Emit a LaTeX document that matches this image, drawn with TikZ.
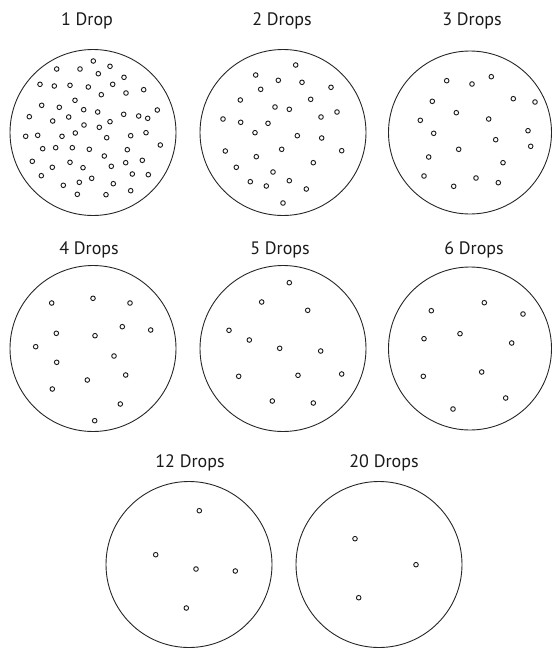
\documentclass[tikz,border=0pt]{standalone}
\usepackage{fontspec}
\setmainfont{PT Sans}
\begin{document}
\begin{tikzpicture}[x=1pt,y=-1pt,
  plate/.style={draw=black!85,line width=0.9pt,circle,inner sep=0pt,minimum size=166pt},
  drop/.style={draw=black!90,line width=0.9pt},
  lbl/.style={anchor=base,font=\fontsize{18}{20}\selectfont,text=black!90,inner sep=0pt}]
\useasboundingbox (0,0) rectangle (552,648);
% plates
\node[plate] (p1) at (93,132.5) {};
\node[plate] (p2) at (283,132.5) {};
\node[plate,minimum size=163pt] (p3) at (470,132.5) {};
\node[plate] (p4) at (93,348.5) {};
\node[plate] (p5) at (283,348.5) {};
\node[plate,minimum size=163pt] (p6) at (470,348.5) {};
\node[plate] (p7) at (189,564.5) {};
\node[plate] (p8) at (379,564.5) {};
% labels
\node[lbl] (l1) at (87,25) {1 Drop};
\node[lbl] (l2) at (282,25) {2 Drops};
\node[lbl] (l3) at (472,25) {3 Drops};
\node[lbl] (l4) at (89,254) {4 Drops};
\node[lbl] (l5) at (280,254) {5 Drops};
\node[lbl] (l6) at (474,254) {6 Drops};
\node[lbl] (l7) at (190,467) {12 Drops};
\node[lbl] (l8) at (384,467) {20 Drops};
% drops
\foreach \x/\y in {93.3/61, 56.7/69, 80/69, 110/66.3, 98.3/73.7, 124/77.3, 40/84.3, 54.3/86, 70/85.3, 88.3/87,
  112.7/84.3, 101.3/94.7, 126/93, 143.7/89.7, 75/100.3, 41.7/105.3, 59.3/107.3, 83.7/109.7, 97.7/112, 123.7/114.3,
  157.3/110, 29.3/116.7, 52.7/121, 68.7/117, 138.7/116, 147.7/118.3, 84/125, 99.3/127.3, 110/121.7, 25.7/136.3,
  37.7/135.3, 62/136.3, 75.3/133, 106.7/137.7, 130.7/135.7, 146/132.7, 160.3/145, 42.7/148.7, 55.7/147.7, 72.3/147.7,
  89.3/149.3, 127.3/149.7, 32.3/161.3, 52.3/167.3, 70/162.3, 83/167.7, 104.3/156, 111.3/166.3, 125.7/162.7, 142.3/160.3,
  41.3/175.7, 91.7/178.3, 132.3/174, 148.3/174.7, 63.3/185.3, 79.3/182.3, 113.3/183.7, 77.3/194.3, 106/194.7, 130.7/190.7,
  % plate 2
  295.7/65, 255.7/75, 278.3/80.3, 302/82.3, 331/87.3, 260.7/89.3, 240.3/100, 310.7/99.3, 275/107, 289.3/109.3,
  337/112, 223/119, 240.7/122.3, 268/123.3, 321/117, 255/132.7, 297.3/135.7, 321.7/138, 225.3/151, 281.7/149.3,
  341.7/150.7, 256.3/156.7, 236.3/167.3, 313.3/162.7, 273/172, 250.3/181.7, 266.3/186, 289.3/180.7, 306.3/189, 283/203,
  % plate 3
  446.7/80.7, 472/84, 491.3/76.7, 432.3/101.3, 513.3/98.7, 535/102, 456.3/112.7, 420.3/120.3, 488.7/119, 433.7/133.3,
  528/130.7, 495.7/139.7, 530.7/146.3, 458.7/149.3, 428.7/157, 503/162.7, 424/176, 476/178, 498.3/182.7, 453.7/186.3,
  % plate 4
  51.7/303, 93/298.3, 130/303, 56.3/333.3, 95/335.7, 122.3/326.7, 150.7/330, 35.7/346.7, 114/356, 56.7/362.3,
  125.7/375, 87.3/380, 52.3/389, 120.3/404, 94.7/420.7,
  % plate 5
  289.3/282.7, 261.7/302, 307.7/310.3, 229/330.3, 249.3/340, 279.7/348.3, 320.7/351, 238.7/376.3, 298/375.3, 341.7/374,
  272.3/401, 313.3/403,
  % plate 6
  431.3/310.7, 484.3/302.7, 523/314, 424/338.7, 460/333.7, 511.7/343, 423.3/376.3, 481.7/372, 505.7/398, 453/409,
  % plate 7
  199.3/510.7, 155.7/554.7, 196/569, 235.3/571, 186.3/608,
  % plate 8
  355/538.7, 416/564.7, 358.7/597.7}
  \draw[drop] (\x,\y) circle[radius=2.3pt];
\end{tikzpicture}
\end{document}
